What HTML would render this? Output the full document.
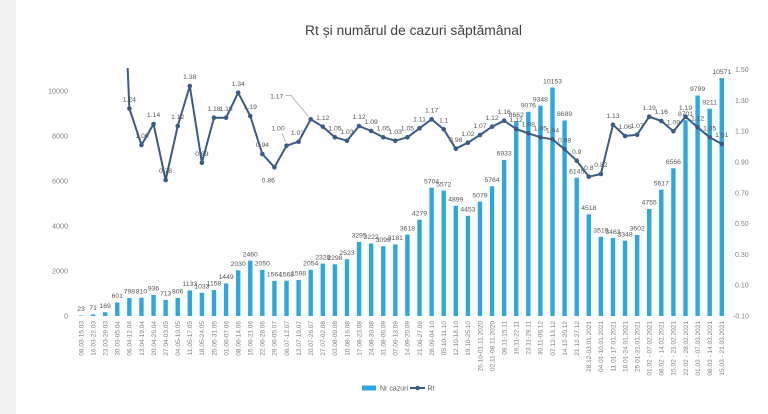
<!DOCTYPE html>
<html><head><meta charset="utf-8"><style>
html,body{margin:0;padding:0;background:#fff;}
svg{display:block;font-family:"Liberation Sans",sans-serif;}
</style></head><body>
<svg width="768" height="414" viewBox="0 0 768 414" xmlns="http://www.w3.org/2000/svg">
<defs><clipPath id="pc"><rect x="60" y="68" width="700" height="260"/></clipPath></defs>
<rect x="0" y="0" width="768" height="414" fill="#fff"/>
<rect x="0" y="0" width="16" height="414" fill="#f2f2f2"/>
<text x="413.5" y="35" font-size="13.5" fill="#404040" text-anchor="middle" textLength="217" lengthAdjust="spacingAndGlyphs">Rt și numărul de cazuri săptămânal</text>

<g font-size="7.2" fill="#808080" text-anchor="end">
<text x="68" y="318.5">0</text><text x="68" y="273.5">2000</text><text x="68" y="228.5">4000</text><text x="68" y="183.5">6000</text><text x="68" y="138.5">8000</text><text x="68" y="93.5">10000</text>
</g>
<g font-size="7" fill="#808080">
<text x="735" y="72">1.50</text><text x="735" y="102.9">1.30</text><text x="735" y="133.7">1.10</text><text x="735" y="164.5">0.90</text><text x="735" y="195.3">0.70</text><text x="735" y="226.1">0.50</text><text x="735" y="256.9">0.30</text><text x="735" y="287.7">0.10</text><text x="733" y="318.5">-0.10</text>
</g>

<g fill="#2ea7dd">
<rect x="78.80" y="315.48" width="4.4" height="0.52"/><rect x="90.89" y="314.40" width="4.4" height="1.60"/><rect x="102.98" y="312.20" width="4.4" height="3.80"/><rect x="115.07" y="302.48" width="4.4" height="13.52"/><rect x="127.16" y="298.04" width="4.4" height="17.96"/><rect x="139.25" y="297.77" width="4.4" height="18.23"/><rect x="151.34" y="294.94" width="4.4" height="21.06"/><rect x="163.43" y="299.96" width="4.4" height="16.04"/><rect x="175.52" y="297.86" width="4.4" height="18.14"/><rect x="187.61" y="290.51" width="4.4" height="25.49"/><rect x="199.70" y="292.76" width="4.4" height="23.24"/><rect x="211.79" y="289.94" width="4.4" height="26.06"/><rect x="223.88" y="283.40" width="4.4" height="32.60"/><rect x="235.97" y="270.32" width="4.4" height="45.68"/><rect x="248.06" y="260.65" width="4.4" height="55.35"/><rect x="260.15" y="269.87" width="4.4" height="46.13"/><rect x="272.24" y="280.81" width="4.4" height="35.19"/><rect x="284.33" y="280.72" width="4.4" height="35.28"/><rect x="296.42" y="280.04" width="4.4" height="35.96"/><rect x="308.51" y="269.78" width="4.4" height="46.22"/><rect x="320.60" y="263.62" width="4.4" height="52.38"/><rect x="332.69" y="264.29" width="4.4" height="51.71"/><rect x="344.78" y="259.23" width="4.4" height="56.77"/><rect x="356.87" y="241.86" width="4.4" height="74.14"/><rect x="368.96" y="243.50" width="4.4" height="72.50"/><rect x="381.05" y="246.27" width="4.4" height="69.73"/><rect x="393.14" y="244.43" width="4.4" height="71.57"/><rect x="405.23" y="234.59" width="4.4" height="81.41"/><rect x="417.32" y="219.72" width="4.4" height="96.28"/><rect x="429.41" y="187.66" width="4.4" height="128.34"/><rect x="441.50" y="190.63" width="4.4" height="125.37"/><rect x="453.59" y="205.77" width="4.4" height="110.23"/><rect x="465.68" y="215.81" width="4.4" height="100.19"/><rect x="477.77" y="201.72" width="4.4" height="114.28"/><rect x="489.86" y="186.31" width="4.4" height="129.69"/><rect x="501.95" y="160.01" width="4.4" height="155.99"/><rect x="514.04" y="121.10" width="4.4" height="194.90"/><rect x="526.13" y="111.79" width="4.4" height="204.21"/><rect x="538.22" y="105.67" width="4.4" height="210.33"/><rect x="550.31" y="87.56" width="4.4" height="228.44"/><rect x="562.40" y="120.50" width="4.4" height="195.50"/><rect x="574.49" y="177.74" width="4.4" height="138.26"/><rect x="586.58" y="214.34" width="4.4" height="101.66"/><rect x="598.67" y="236.84" width="4.4" height="79.16"/><rect x="610.76" y="238.08" width="4.4" height="77.92"/><rect x="622.85" y="240.67" width="4.4" height="75.33"/><rect x="634.94" y="234.95" width="4.4" height="81.05"/><rect x="647.03" y="209.01" width="4.4" height="106.99"/><rect x="659.12" y="189.62" width="4.4" height="126.38"/><rect x="671.21" y="168.26" width="4.4" height="147.74"/><rect x="683.30" y="120.23" width="4.4" height="195.77"/><rect x="695.39" y="95.52" width="4.4" height="220.48"/><rect x="707.48" y="108.75" width="4.4" height="207.25"/><rect x="719.57" y="78.15" width="4.4" height="237.85"/>
</g>

<g font-size="6.8" fill="#555" text-anchor="middle">
<text x="81.00" y="311.2">23</text><text x="93.09" y="310.1">71</text><text x="105.18" y="307.9">169</text><text x="117.27" y="298.2">601</text><text x="129.36" y="293.7">798</text><text x="141.45" y="293.5">810</text><text x="153.54" y="290.6">936</text><text x="165.63" y="295.7">713</text><text x="177.72" y="293.6">806</text><text x="189.81" y="286.2">1133</text><text x="201.90" y="288.5">1033</text><text x="213.99" y="285.6">1158</text><text x="226.08" y="279.1">1449</text><text x="238.17" y="266.0">2030</text><text x="250.26" y="256.4">2460</text><text x="262.35" y="265.6">2050</text><text x="274.44" y="276.5">1564</text><text x="286.53" y="276.4">1568</text><text x="298.62" y="275.7">1598</text><text x="310.71" y="265.5">2054</text><text x="322.80" y="259.3">2328</text><text x="334.89" y="260.0">2298</text><text x="346.98" y="254.9">2523</text><text x="359.07" y="237.6">3295</text><text x="371.16" y="239.2">3222</text><text x="383.25" y="242.0">3099</text><text x="395.34" y="240.1">3181</text><text x="407.43" y="230.3">3618</text><text x="419.52" y="215.4">4279</text><text x="431.61" y="183.4">5704</text><text x="443.70" y="186.3">5572</text><text x="455.79" y="201.5">4899</text><text x="467.88" y="211.5">4453</text><text x="479.97" y="197.4">5079</text><text x="492.06" y="182.0">5764</text><text x="504.15" y="155.7">6933</text><text x="516.24" y="116.8">8662</text><text x="528.33" y="107.5">9076</text><text x="540.42" y="101.4">9348</text><text x="552.51" y="83.3">10153</text><text x="564.60" y="116.2">8689</text><text x="576.69" y="173.4">6145</text><text x="588.78" y="210.0">4518</text><text x="600.87" y="232.5">3518</text><text x="612.96" y="233.8">3463</text><text x="625.05" y="236.4">3348</text><text x="637.14" y="230.7">3602</text><text x="649.23" y="204.7">4755</text><text x="661.32" y="185.3">5617</text><text x="673.41" y="164.0">6566</text><text x="685.50" y="115.9">8701</text><text x="697.59" y="91.2">9799</text><text x="709.68" y="104.4">9211</text><text x="721.77" y="73.9">10571</text>
</g>

<g clip-path="url(#pc)">
<polyline fill="none" stroke="#3b5b87" stroke-width="2" stroke-linejoin="round" points="117.27,-180 129.36,108.5 141.45,145 153.54,124 165.63,180 177.72,126 189.81,86 201.90,162.7 213.99,117.7 226.08,117.7 238.17,92.7 250.26,116 262.35,154 274.44,167.3 286.53,145.7 298.62,141.7 310.71,119.3 322.80,126.7 334.89,137.3 346.98,140.7 359.07,126 371.16,131 383.25,137.3 395.34,140.7 407.43,137.3 419.52,128.3 431.61,119.3 443.70,129.3 455.79,148.7 467.88,142.7 479.97,135 492.06,126.7 504.15,120.7 516.24,129 528.33,133.3 540.42,137.3 552.51,139.3 564.60,149.3 576.69,160.7 588.78,176.7 600.87,174 612.96,124.7 625.05,136 637.14,134.7 649.23,116.7 661.32,121 673.41,131.3 685.50,116.7 697.59,127.3 709.68,137.3 721.77,144"/>
</g>
<g fill="#3b5b87">
<circle cx="129.36" cy="108.5" r="2.3"/><circle cx="141.45" cy="145" r="2.3"/><circle cx="153.54" cy="124" r="2.3"/><circle cx="165.63" cy="180" r="2.3"/><circle cx="177.72" cy="126" r="2.3"/><circle cx="189.81" cy="86" r="2.3"/><circle cx="201.90" cy="162.7" r="2.3"/><circle cx="213.99" cy="117.7" r="2.3"/><circle cx="226.08" cy="117.7" r="2.3"/><circle cx="238.17" cy="92.7" r="2.3"/><circle cx="250.26" cy="116" r="2.3"/><circle cx="262.35" cy="154" r="2.3"/><circle cx="274.44" cy="167.3" r="2.3"/><circle cx="286.53" cy="145.7" r="2.3"/><circle cx="298.62" cy="141.7" r="2.3"/><circle cx="310.71" cy="119.3" r="2.3"/><circle cx="322.80" cy="126.7" r="2.3"/><circle cx="334.89" cy="137.3" r="2.3"/><circle cx="346.98" cy="140.7" r="2.3"/><circle cx="359.07" cy="126" r="2.3"/><circle cx="371.16" cy="131" r="2.3"/><circle cx="383.25" cy="137.3" r="2.3"/><circle cx="395.34" cy="140.7" r="2.3"/><circle cx="407.43" cy="137.3" r="2.3"/><circle cx="419.52" cy="128.3" r="2.3"/><circle cx="431.61" cy="119.3" r="2.3"/><circle cx="443.70" cy="129.3" r="2.3"/><circle cx="455.79" cy="148.7" r="2.3"/><circle cx="467.88" cy="142.7" r="2.3"/><circle cx="479.97" cy="135" r="2.3"/><circle cx="492.06" cy="126.7" r="2.3"/><circle cx="504.15" cy="120.7" r="2.3"/><circle cx="516.24" cy="129" r="2.3"/><circle cx="528.33" cy="133.3" r="2.3"/><circle cx="540.42" cy="137.3" r="2.3"/><circle cx="552.51" cy="139.3" r="2.3"/><circle cx="564.60" cy="149.3" r="2.3"/><circle cx="576.69" cy="160.7" r="2.3"/><circle cx="588.78" cy="176.7" r="2.3"/><circle cx="600.87" cy="174" r="2.3"/><circle cx="612.96" cy="124.7" r="2.3"/><circle cx="625.05" cy="136" r="2.3"/><circle cx="637.14" cy="134.7" r="2.3"/><circle cx="649.23" cy="116.7" r="2.3"/><circle cx="661.32" cy="121" r="2.3"/><circle cx="673.41" cy="131.3" r="2.3"/><circle cx="685.50" cy="116.7" r="2.3"/><circle cx="697.59" cy="127.3" r="2.3"/><circle cx="709.68" cy="137.3" r="2.3"/><circle cx="721.77" cy="144" r="2.3"/>
</g>

<g stroke="#a6a6a6" stroke-width="0.8" fill="none">
<polyline points="282,133 285.5,142"/>
<polyline points="285.5,95.5 291,95.5 308.5,116.5"/>
</g>

<g font-size="6.8" fill="#555" text-anchor="middle">
<text x="129.4" y="101.7">1.24</text><text x="142" y="138.2">1.00</text><text x="153.5" y="117.2">1.14</text><text x="165.6" y="173.2">0.78</text><text x="177.7" y="119.2">1.12</text><text x="189.8" y="79.2">1.38</text><text x="201.9" y="155.9">0.89</text><text x="214" y="110.9">1.18</text><text x="226.1" y="110.9">1.18</text><text x="238.2" y="85.9">1.34</text><text x="250.3" y="109.2">1.19</text><text x="262.4" y="147.2">0.94</text><text x="268.3" y="182.7">0.86</text><text x="278" y="130.4">1.00</text><text x="297.5" y="134.9">1.03</text><text x="276.7" y="98.7">1.17</text><text x="322.8" y="119.9">1.12</text><text x="334.9" y="130.5">1.05</text><text x="347" y="133.9">1.03</text><text x="359.1" y="119.2">1.12</text><text x="371.2" y="124.2">1.09</text><text x="383.3" y="130.5">1.05</text><text x="395.3" y="133.9">1.03</text><text x="407.4" y="130.5">1.05</text><text x="419.5" y="121.5">1.11</text><text x="431.6" y="112.5">1.17</text><text x="443.7" y="122.5">1.1</text><text x="455.8" y="141.9">0.98</text><text x="467.9" y="135.9">1.02</text><text x="480" y="128.2">1.07</text><text x="492.1" y="119.9">1.12</text><text x="504.2" y="113.9">1.16</text><text x="516.2" y="122.2">1.12</text><text x="528.3" y="126.5">1.08</text><text x="540.4" y="130.5">1.05</text><text x="552.5" y="132.5">1.04</text><text x="564.6" y="142.5">0.98</text><text x="576.7" y="153.9">0.9</text><text x="588.8" y="169.9">0.8</text><text x="600.9" y="167.2">0.82</text><text x="613" y="117.9">1.13</text><text x="625" y="129.2">1.06</text><text x="637.1" y="127.9">1.07</text><text x="649.2" y="109.9">1.19</text><text x="661.3" y="114.2">1.16</text><text x="673.4" y="124.5">1.09</text><text x="685.5" y="109.9">1.19</text><text x="697.6" y="120.5">1.12</text><text x="709.7" y="130.5">1.05</text><text x="721.8" y="137.2">1.01</text>
</g>

<g font-size="6.5" fill="#7f7f7f" text-anchor="end">
<text transform="translate(83.30,321) rotate(-90)">08.03-15.03</text>
<text transform="translate(95.39,321) rotate(-90)">16.03-22.03</text>
<text transform="translate(107.48,321) rotate(-90)">23.03-29.03</text>
<text transform="translate(119.57,321) rotate(-90)">30.03-05.04</text>
<text transform="translate(131.66,321) rotate(-90)">06.04-12.04</text>
<text transform="translate(143.75,321) rotate(-90)">13.04-19.04</text>
<text transform="translate(155.84,321) rotate(-90)">20.04-26.04</text>
<text transform="translate(167.93,321) rotate(-90)">27.04-03.05</text>
<text transform="translate(180.02,321) rotate(-90)">04.05-10.05</text>
<text transform="translate(192.11,321) rotate(-90)">11.05-17.05</text>
<text transform="translate(204.20,321) rotate(-90)">18.05-24.05</text>
<text transform="translate(216.29,321) rotate(-90)">25.05-31.05</text>
<text transform="translate(228.38,321) rotate(-90)">01.06-07.06</text>
<text transform="translate(240.47,321) rotate(-90)">08.06-14.06</text>
<text transform="translate(252.56,321) rotate(-90)">15.06-21.06</text>
<text transform="translate(264.65,321) rotate(-90)">22.06-28.06</text>
<text transform="translate(276.74,321) rotate(-90)">29.06-05.07</text>
<text transform="translate(288.83,321) rotate(-90)">06.07-12.07</text>
<text transform="translate(300.92,321) rotate(-90)">13.07-19.07</text>
<text transform="translate(313.01,321) rotate(-90)">20.07-26.07</text>
<text transform="translate(325.10,321) rotate(-90)">27.07-02.08</text>
<text transform="translate(337.19,321) rotate(-90)">03.08-09.08</text>
<text transform="translate(349.28,321) rotate(-90)">10.08-16.08</text>
<text transform="translate(361.37,321) rotate(-90)">17.08-23.08</text>
<text transform="translate(373.46,321) rotate(-90)">24.08-30.08</text>
<text transform="translate(385.55,321) rotate(-90)">31.08-06.09</text>
<text transform="translate(397.64,321) rotate(-90)">07.09-13.09</text>
<text transform="translate(409.73,321) rotate(-90)">14.09-20.09</text>
<text transform="translate(421.82,321) rotate(-90)">21.09-27.09</text>
<text transform="translate(433.91,321) rotate(-90)">28.09-04.10</text>
<text transform="translate(446.00,321) rotate(-90)">05.10-11.10</text>
<text transform="translate(458.09,321) rotate(-90)">12.10-18.10</text>
<text transform="translate(470.18,321) rotate(-90)">19.10-25.10</text>
<text transform="translate(482.27,321) rotate(-90)">26.10-01.11.2020</text>
<text transform="translate(494.36,321) rotate(-90)">02.11-08.11.2020</text>
<text transform="translate(506.45,321) rotate(-90)">09.11-15.11</text>
<text transform="translate(518.54,321) rotate(-90)">16.11-22.11</text>
<text transform="translate(530.63,321) rotate(-90)">23.11-29.11</text>
<text transform="translate(542.72,321) rotate(-90)">30.11-06.12</text>
<text transform="translate(554.81,321) rotate(-90)">07.12-13.12</text>
<text transform="translate(566.90,321) rotate(-90)">14.12-20.12</text>
<text transform="translate(578.99,321) rotate(-90)">21.12-27.12</text>
<text transform="translate(591.08,321) rotate(-90)">28.12-03.01.2021</text>
<text transform="translate(603.17,321) rotate(-90)">04.01-10.01.2021</text>
<text transform="translate(615.26,321) rotate(-90)">11.01-17.01.2021</text>
<text transform="translate(627.35,321) rotate(-90)">18.01-24.01.2021</text>
<text transform="translate(639.44,321) rotate(-90)">25.01-31.01.2021</text>
<text transform="translate(651.53,321) rotate(-90)">01.02 - 07.02.2021</text>
<text transform="translate(663.62,321) rotate(-90)">08.02 - 14.02.2021</text>
<text transform="translate(675.71,321) rotate(-90)">15.02 - 21.02.2021</text>
<text transform="translate(687.80,321) rotate(-90)">22.02 - 28.02.2021</text>
<text transform="translate(699.89,321) rotate(-90)">01.03 - 07.03.2021</text>
<text transform="translate(711.98,321) rotate(-90)">08.03 - 14.03.2021</text>
<text transform="translate(724.07,321) rotate(-90)">15.03 - 21.03.2021</text>
</g>

<rect x="362" y="385.5" width="14" height="5" fill="#2ea7dd"/>
<text x="380" y="390.5" font-size="7" fill="#595959">Nr cazuri</text>
<line x1="410" y1="388" x2="425" y2="388" stroke="#3b5b87" stroke-width="2"/>
<circle cx="417.5" cy="388" r="2.3" fill="#3b5b87"/>
<text x="427.5" y="390.5" font-size="7" fill="#595959">Rt</text>
</svg>
</body></html>
